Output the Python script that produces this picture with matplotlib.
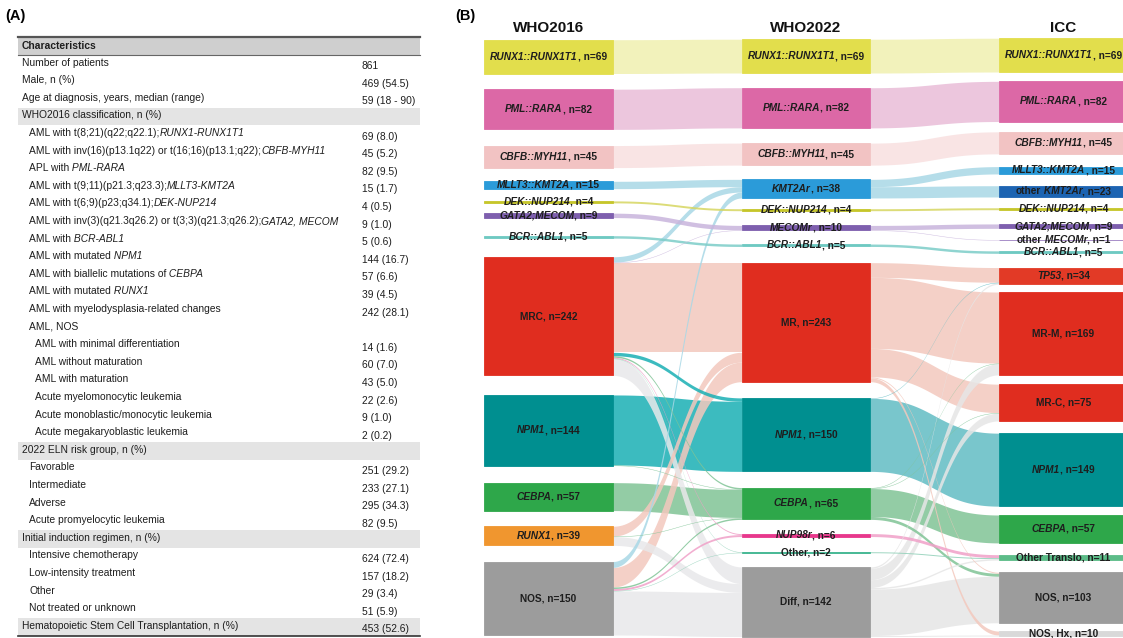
import numpy as np
import matplotlib
matplotlib.use("Agg")
import matplotlib.pyplot as plt
from matplotlib.patches import Rectangle
from matplotlib.offsetbox import TextArea, HPacker, AnnotationBbox

plt.rcParams['font.family'] = ['Liberation Sans', 'DejaVu Sans']

# ---------------- table (A) ----------------
row_labels = [
    "Number of patients",
    "Male, n (%)",
    "Age at diagnosis, years, median (range)",
    "WHO2016 classification, n (%)",
    "AML with t(8;21)(q22;q22.1);*RUNX1-RUNX1T1*",
    "AML with inv(16)(p13.1q22) or t(16;16)(p13.1;q22);*CBFB-MYH11*",
    "APL with *PML-RARA*",
    "AML with t(9;11)(p21.3;q23.3);*MLLT3-KMT2A*",
    "AML with t(6;9)(p23;q34.1);*DEK-NUP214*",
    "AML with inv(3)(q21.3q26.2) or t(3;3)(q21.3;q26.2);*GATA2, MECOM*",
    "AML with *BCR-ABL1*",
    "AML with mutated *NPM1*",
    "AML with biallelic mutations of *CEBPA*",
    "AML with mutated *RUNX1*",
    "AML with myelodysplasia-related changes",
    "AML, NOS",
    "AML with minimal differentiation",
    "AML without maturation",
    "AML with maturation",
    "Acute myelomonocytic leukemia",
    "Acute monoblastic/monocytic leukemia",
    "Acute megakaryoblastic leukemia",
    "2022 ELN risk group, n (%)",
    "Favorable",
    "Intermediate",
    "Adverse",
    "Acute promyelocytic leukemia",
    "Initial induction regimen, n (%)",
    "Intensive chemotherapy",
    "Low-intensity treatment",
    "Other",
    "Not treated or unknown",
    "Hematopoietic Stem Cell Transplantation, n (%)",
]
row_values = [
    "861", "469 (54.5)", "59 (18 - 90)", "",
    "69 (8.0)", "45 (5.2)", "82 (9.5)", "15 (1.7)", "4 (0.5)", "9 (1.0)",
    "5 (0.6)", "144 (16.7)", "57 (6.6)", "39 (4.5)", "242 (28.1)", "",
    "14 (1.6)", "60 (7.0)", "43 (5.0)", "22 (2.6)", "9 (1.0)", "2 (0.2)",
    "", "251 (29.2)", "233 (27.1)", "295 (34.3)", "82 (9.5)",
    "", "624 (72.4)", "157 (18.2)", "29 (3.4)", "51 (5.9)",
    "453 (52.6)",
]
row_level = [0, 0, 0, 0] + [1] * 12 + [2] * 6 + [0, 1, 1, 1, 1, 0, 1, 1, 1, 1, 0]
shaded_rows = [3, 22, 27, 32]

# ---------------- sankey (B) ----------------
col_titles = ["WHO2016", "WHO2022", "ICC"]

who2016_names = ["*RUNX1::RUNX1T1*", "*PML::RARA*", "*CBFB::MYH11*", "*MLLT3::KMT2A*",
                 "*DEK::NUP214*", "*GATA2;MECOM*", "*BCR::ABL1*", "MRC", "*NPM1*",
                 "*CEBPA*", "*RUNX1*", "NOS"]
who2016_n = [69, 82, 45, 15, 4, 9, 5, 242, 144, 57, 39, 150]

who2022_names = ["*RUNX1::RUNX1T1*", "*PML::RARA*", "*CBFB::MYH11*", "*KMT2Ar*",
                 "*DEK::NUP214*", "*MECOMr*", "*BCR::ABL1*", "MR", "*NPM1*", "*CEBPA*",
                 "*NUP98r*", "Other", "Diff"]
who2022_n = [69, 82, 45, 38, 4, 10, 5, 243, 150, 65, 6, 2, 142]

icc_names = ["*RUNX1::RUNX1T1*", "*PML::RARA*", "*CBFB::MYH11*", "*MLLT3::KMT2A*",
             "other *KMT2Ar*", "*DEK::NUP214*", "*GATA2;MECOM*", "other *MECOMr*",
             "*BCR::ABL1*", "*TP53*", "MR-M", "MR-C", "*NPM1*", "*CEBPA*",
             "Other Translo", "NOS", "NOS, Hx"]
icc_n = [69, 82, 45, 15, 23, 4, 9, 1, 5, 34, 169, 75, 149, 57, 11, 103, 10]

# (source, target, patients)
flows_16_22 = [
    (0, 0, 69), (1, 1, 82), (2, 2, 45), (3, 3, 15), (4, 4, 4), (5, 5, 9), (6, 6, 5),
    (7, 3, 11), (7, 5, 1), (7, 7, 183), (7, 8, 7), (7, 9, 3), (7, 10, 2), (7, 11, 1), (7, 12, 34),
    (8, 8, 143), (8, 9, 1),
    (9, 9, 57),
    (10, 7, 20), (10, 9, 1), (10, 12, 18),
    (11, 3, 12), (11, 7, 40), (11, 9, 3), (11, 10, 4), (11, 11, 1), (11, 12, 90),
]
flows_22_icc = [
    (0, 0, 69), (1, 1, 82), (2, 2, 45), (3, 3, 15), (3, 4, 23), (4, 5, 4), (5, 6, 9), (5, 7, 1),
    (6, 8, 5),
    (7, 9, 30), (7, 10, 145), (7, 11, 58), (7, 15, 2), (7, 16, 8),
    (8, 12, 149), (8, 9, 1),
    (9, 13, 57), (9, 10, 1), (9, 11, 1), (9, 15, 6),
    (10, 14, 6), (11, 14, 2),
    (12, 9, 3), (12, 10, 23), (12, 11, 16), (12, 14, 3), (12, 15, 95), (12, 16, 2),
]

# layout: padding above each node, in patient units
gaps_2016 = [81, 32, 33, 28, 25, 21, 37, 38, 40, 35, 32, 33]
gaps_2022 = [80, 30, 31, 29, 22, 30, 28, 33, 33, 33, 29, 31, 29]
gaps_icc = [78, 19, 21, 26, 24, 22, 29, 23, 22, 29, 16, 19, 25, 18, 24, 25, 17]

RED, TEAL, GREEN, GRAY = '#e02d1f', '#008f90', '#2ea74a', '#9c9c9c'
colors_2016 = ['#e2de4c', '#dc68a6', '#f2c3c3', '#2b9bd9', '#c6c62a', '#7e5fae', '#6ec9c2',
               RED, TEAL, GREEN, '#f0962f', GRAY]
colors_2022 = ['#e2de4c', '#dc68a6', '#f2c3c3', '#2b9bd9', '#c6c62a', '#7e5fae', '#6ec9c2',
               RED, TEAL, GREEN, '#e8388c', '#3cb48e', GRAY]
colors_icc = ['#e2de4c', '#dc68a6', '#f2c3c3', '#2b9bd9', '#1d64b2', '#c6c62a', '#7e5fae',
              '#9a7cc0', '#6ec9c2', '#e23a26', RED, RED, TEAL, GREEN, '#5cbc88', GRAY, '#d9d9d9']
# ribbon colours follow the WHO2022 class
link_2022_a = ['#f0f0b0', '#e9bcd8', '#f8e0e0', '#a8d8e6', '#d6d660', '#c8b4dc', '#7ccdc8',
               '#f3c8bd', '#1ab0b4', '#80c496', '#f0a0c8', '#90d0b8', '#e8e8ea']
link_2022_b = ['#f0f0b0', '#e9bcd8', '#f8e0e0', '#a8d8e6', '#d6d660', '#c8b4dc', '#7ccdc8',
               '#f3c8bd', '#62bcc4', '#80c496', '#f0a0c8', '#90d0b8', '#e6e6e6']

TXT = '#1e1e1e'


def rich(ax, x, y, s, ha='left', size=7.4, weight='normal', color=TXT):
    """Text with *italic* spans, packed side by side."""
    parts = s.split('*')
    # trailing blanks are not measured, so carry them over to the next span
    for i in range(len(parts) - 1):
        stripped = parts[i].rstrip(' ')
        parts[i + 1] = ' ' * (len(parts[i]) - len(stripped)) + parts[i + 1]
        parts[i] = stripped
    boxes = []
    for i, p in enumerate(parts):
        if p:
            boxes.append(TextArea(p, textprops=dict(
                fontsize=size, fontweight=weight, color=color,
                fontstyle='italic' if i % 2 else 'normal')))
    pack = HPacker(children=boxes, align='baseline', pad=0, sep=0)
    ab = AnnotationBbox(pack, (x, y), xycoords='data', frameon=False, pad=0,
                        box_alignment=(0 if ha == 'left' else 0.5, 0.5),
                        annotation_clip=False)
    ax.add_artist(ab)


fig = plt.figure(figsize=(11.23, 6.38), dpi=100)

# ---- table ----
ax_t = fig.add_axes([0, 0, 440 / 1123, 1])
ax_t.set_xlim(0, 440)
ax_t.set_ylim(638, 0)
ax_t.axis('off')

row_h = 17.6
head_y = 46
x_left, x_right, x_val = 18, 420, 362
indent_x = [22, 29, 35]

ax_t.add_patch(Rectangle((x_left, head_y - row_h / 2), x_right - x_left, row_h,
                         facecolor='#cfcfcf', edgecolor='none'))
ax_t.plot([x_left, x_right], [head_y - row_h / 2] * 2, color='#555555', lw=1.6)
ax_t.plot([x_left, x_right], [head_y + row_h / 2] * 2, color='#666666', lw=0.8)
ax_t.text(indent_x[0], head_y, "Characteristics", fontsize=7.4, fontweight='bold',
          color=TXT, va='center')

for i, (lab, val, lev) in enumerate(zip(row_labels, row_values, row_level)):
    yc = head_y + row_h * (i + 1)
    if i in shaded_rows:
        ax_t.add_patch(Rectangle((x_left, yc - row_h / 2), x_right - x_left, row_h,
                                 facecolor='#e4e4e4', edgecolor='none'))
    rich(ax_t, indent_x[lev], yc - 1, lab)
    if val:
        ax_t.text(x_val, yc + 2.5, val, fontsize=7.4, color=TXT, va='center')

bottom = head_y + row_h * len(row_labels) + row_h / 2
ax_t.plot([x_left, x_right], [bottom, bottom], color='#333333', lw=1.2)

fig.text(5 / 1123, 1 - 16 / 638, "(A)", fontsize=10.5, fontweight='bold', va='center')
fig.text(455 / 1123, 1 - 16 / 638, "(B)", fontsize=10.5, fontweight='bold', va='center')

# ---- sankey ----
ax_s = fig.add_axes([440 / 1123, 0, 683 / 1123, 1])
ax_s.set_xlim(-44 / 257.5, 683 / 257.5 - 44 / 257.5)
ax_s.set_ylim(638 / 0.49, 0)
ax_s.axis('off')
node_w = 0.5


def stack(values, gaps):
    tops, y = [], 0.0
    for v, g in zip(values, gaps):
        y += g
        tops.append(y)
        y += v
    return tops


tops_2016 = stack(who2016_n, gaps_2016)
tops_2022 = stack(who2022_n, gaps_2022)
tops_icc = stack(icc_n, gaps_icc)


def draw_links(flows, src_tops, tgt_tops, x0, x1, link_cols, by_target):
    y_src, y_tgt = {}, {}
    off = {}
    for s, t, v in sorted(flows, key=lambda f: (f[0], f[1])):
        y_src[(s, t)] = src_tops[s] + off.get(s, 0)
        off[s] = off.get(s, 0) + v
    off = {}
    for s, t, v in sorted(flows, key=lambda f: (f[1], f[0])):
        y_tgt[(s, t)] = tgt_tops[t] + off.get(t, 0)
        off[t] = off.get(t, 0) + v
    tt = np.linspace(0, 1, 80)
    xm = (x0 + x1) / 2
    xs = (1 - tt) ** 3 * x0 + 3 * (1 - tt) ** 2 * tt * xm + 3 * (1 - tt) * tt ** 2 * xm + tt ** 3 * x1
    blend = 3 * tt ** 2 - 2 * tt ** 3
    for s, t, v in sorted(flows, key=lambda f: -f[2]):
        ya, yb = y_src[(s, t)], y_tgt[(s, t)]
        top = ya + (yb - ya) * blend
        col = link_cols[t] if by_target else link_cols[s]
        ax_s.fill_between(xs, top, top + v, color=col, alpha=0.85, lw=0)


draw_links(flows_16_22, tops_2016, tops_2022, node_w, 1, link_2022_a, True)
draw_links(flows_22_icc, tops_2022, tops_icc, 1 + node_w, 2, link_2022_b, False)

columns = [(who2016_names, who2016_n, tops_2016, colors_2016),
           (who2022_names, who2022_n, tops_2022, colors_2022),
           (icc_names, icc_n, tops_icc, colors_icc)]
for ci, (names, vals, tops, cols) in enumerate(columns):
    for name, v, top, c in zip(names, vals, tops, cols):
        ax_s.add_patch(Rectangle((ci, top), node_w, v, facecolor=c, edgecolor=c, lw=0.6))
        rich(ax_s, ci + node_w / 2, top + v / 2, f"{name}, n={v}", ha='center',
             size=7.3, weight='bold')
    ax_s.text(ci + node_w / 2, 28 / 0.49, col_titles[ci], fontsize=11, fontweight='bold',
              ha='center', va='center', color='#111111')

fig.savefig("out.png", dpi=100)
